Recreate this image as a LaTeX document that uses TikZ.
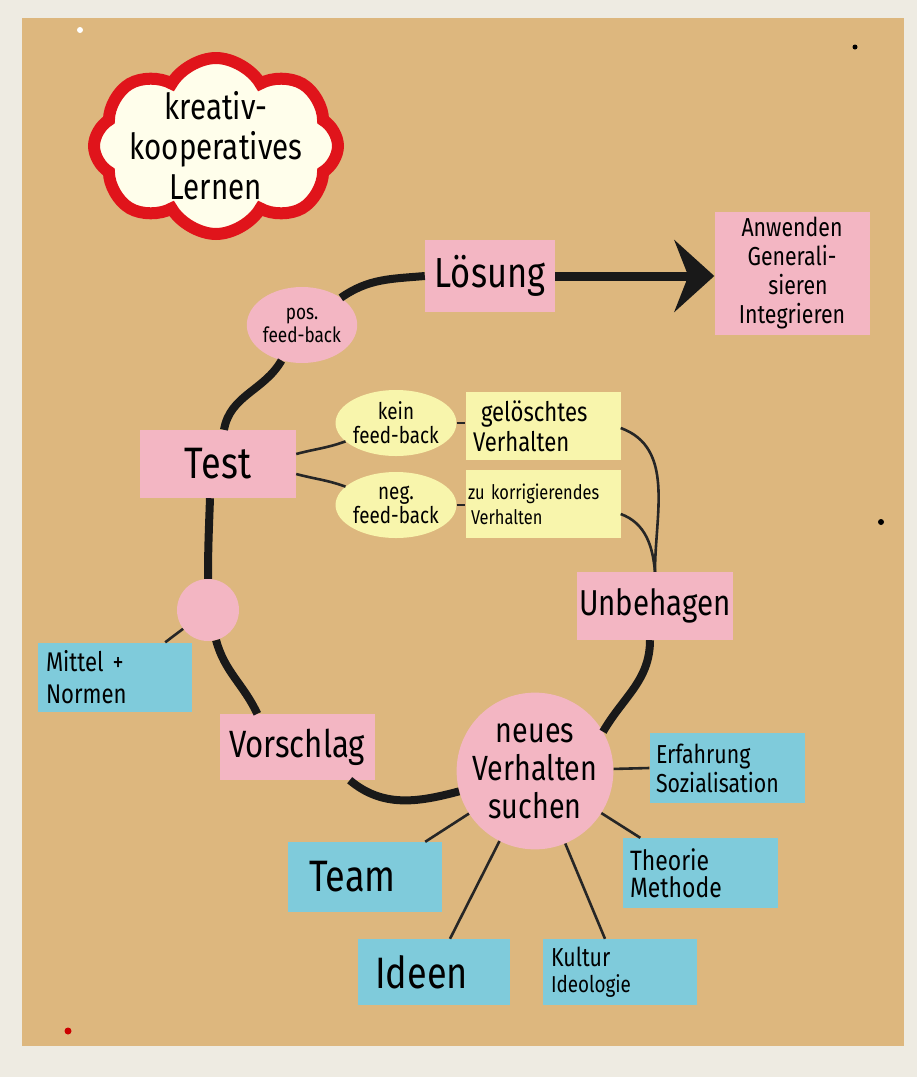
\documentclass[tikz,border=0pt]{standalone}
\usepackage{fontspec}
\setmainfont{Fira Sans}[FakeStretch=0.82]
\usetikzlibrary{shapes.geometric,shapes.symbols,arrows.meta}
\definecolor{wand}{HTML}{EEEBE2}
\definecolor{papier}{HTML}{DDB77E}
\definecolor{rosa}{HTML}{F3B6C3}
\definecolor{hellblau}{HTML}{7FCBDB}
\definecolor{gelb}{HTML}{F8F5AC}
\definecolor{wolkenrot}{HTML}{E0141B}
\newcommand{\gr}[2]{\fontsize{#1}{#2}\selectfont}

\begin{document}
\begin{tikzpicture}[x=1pt, y=1pt]
        \tikzset{
          zettel/.style={rectangle, fill=rosa, minimum width=155pt, minimum height=68pt, inner sep=2pt, align=center},
          blauzettel/.style={zettel, fill=hellblau},
          gelbzettel/.style={zettel, fill=gelb},
          links/.style={align=left, text width=#1},
          oval/.style={ellipse, fill=rosa, minimum width=104pt, minimum height=76pt, inner sep=0pt, align=center},
          kreislinie/.style={line width=8pt, black!90},
          strich/.style={line width=2.6pt, black!85},
        }
        \useasboundingbox (0,0) rectangle (917,-1077);
        \fill[wand] (0,0) rectangle (917,-1077);
        \fill[papier] (22,-18) rectangle (904,-1046);
        \fill[white] (80,-30) circle (3);
        \fill[black] (855,-47) circle (2.5);
        \fill[black] (881,-522) circle (3);
        \fill[red!80!black] (68,-1031) circle (3.5);
        % 
        \node [cloud, cloud puffs=8, cloud puff arc=120, fill=white!92!yellow, draw=wolkenrot, line width=12pt,
               minimum width=244pt, minimum height=176pt] (wolke) at (216,-146) {};
        \node [align=center, font=\gr{36}{40}] (titel) at (wolke.center) {kreativ-\\ kooperatives\\ Lernen};
        % 
        \node [zettel, minimum width=130pt, minimum height=72pt, font=\gr{42}{44}] (loesung) at (490,-276) {Lösung};
        \node [zettel, minimum height=123pt, font=\gr{26}{29}] (anwenden) at (792,-273) {Anwenden\\ Generali-\\ \hspace*{12pt}sieren\\ Integrieren};
        \node [oval, font=\gr{21}{23}] (pos) at (302,-325) {pos.\\ feed-back};
        \node [zettel, minimum width=156pt, font=\gr{44}{46}] (test) at (218,-464) {Test};
        \node [oval, fill=gelb, minimum width=100pt, minimum height=66pt, font=\gr{23}{24}] (kein) at (396,-423) {kein\\ feed-back};
        \node [oval, fill=gelb, minimum width=100pt, minimum height=66pt, font=\gr{23}{24}] (neg) at (396,-505) {neg.\\ feed-back};
        \node [gelbzettel, links=140pt, font=\gr{27}{30}] (geloescht) at (543,-426) {\hspace*{8pt}gelöschtes\\ Verhalten};
        \node [gelbzettel, links=150pt, font=\gr{20}{25}] (korrig) at (543,-504) {zu korrigierendes\\ \hspace*{3pt}Verhalten};
        \node [zettel, font=\gr{36}{40}] (unbehagen) at (655,-606) {Unbehagen};
        \node [circle, fill=rosa, minimum size=62pt] (punkt) at (208,-610) {};
        \node [blauzettel, minimum width=154pt, minimum height=69pt, links=138pt, font=\gr{27}{32}] (mittel) at (115,-677) {Mittel +\\ Normen};
        \node [zettel, minimum height=66pt, font=\gr{38}{40}] (vorschlag) at (297,-747) {Vorschlag};
        \node [circle, fill=rosa, minimum size=150pt, inner sep=0pt, align=center, font=\gr{35}{38}] (neues) at (535,-771) {neues\\ Verhalten\\ suchen};
        \node [blauzettel, minimum height=70pt, links=142pt, font=\gr{26}{29}] (erfahrung) at (727,-768) {Erfahrung\\ Sozialisation};
        \node [blauzettel, minimum height=70pt, links=140pt, font=\gr{28}{27}] (theorie) at (700,-873) {Theorie\\ Methode};
        \node [blauzettel, minimum width=154pt, minimum height=70pt, font=\gr{44}{46}] (team) at (365,-877) {Team\hspace*{25pt}};
        \node [blauzettel, minimum width=152pt, minimum height=66pt, font=\gr{44}{46}] (ideen) at (434,-972) {Ideen\hspace*{25pt}};
        \node [blauzettel, minimum width=154pt, minimum height=66pt, links=138pt, font=\gr{26}{26}] (kultur) at (620,-972) {Kultur\\ {\gr{23}{24}Ideologie}};
        % 
        \draw [kreislinie] (loesung.west) to[out=185,in=35] (pos);
        \draw [kreislinie] (pos) to[out=240,in=80] ([xshift=6pt]test.north);
        \draw [kreislinie] ([xshift=-8pt]test.south) to[out=-92,in=90] (punkt);
        \draw [kreislinie] (punkt) to[out=-75,in=115] ([xshift=38pt]vorschlag.north west);
        \draw [kreislinie] ([xshift=-25pt]vorschlag.south east) to[out=-40,in=195] (neues);
        \draw [kreislinie] (neues.30) to[out=60,in=-90] ([xshift=-5pt]unbehagen.south);
        \draw [line width=9pt, black!90, -{Stealth[length=40pt, width=72pt, inset=14pt]}]
              (loesung.east) -- (loesung.east -| anwenden.west);
        % 
        \draw [strich] ([yshift=10pt]test.east) to[out=15,in=200] (kein);
        \draw [strich] ([yshift=-10pt]test.east) to[out=-15,in=160] (neg);
        \draw [strich] (kein.east) -- (kein.east -| geloescht.west);
        \draw [strich] (neg.east) -- (neg.east -| korrig.west);
        \draw [strich] ([yshift=-2pt]geloescht.east) to[out=-20,in=90] (unbehagen.north);
        \draw [strich] ([yshift=-10pt]korrig.east) to[out=-20,in=95] (unbehagen.north);
        \draw [strich] (punkt) -- ([xshift=-27pt]mittel.north east);
        \draw [strich] (neues) -- (erfahrung.west);
        \draw [strich] (neues) -- ([xshift=18pt]theorie.north west);
        \draw [strich] (neues) -- ([xshift=-15pt]kultur.north);
        \draw [strich] (neues) -- ([xshift=16pt]ideen.north);
        \draw [strich] (neues) -- ([xshift=-17pt]team.north east);
\end{tikzpicture}
\end{document}
